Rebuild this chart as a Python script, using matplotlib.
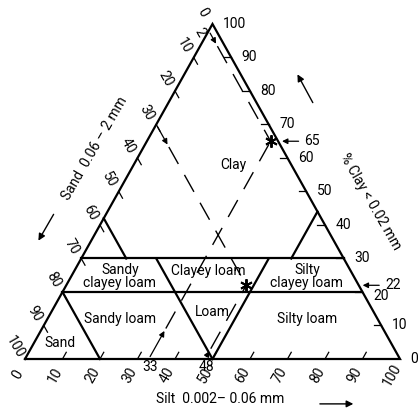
import numpy as np
import matplotlib
matplotlib.use('Agg')
import matplotlib.pyplot as plt

plt.rcParams['font.family'] = ['Roboto', 'DejaVu Sans']

# ternary points given as (silt %, clay %) -- sand is the rest
tick_vals = [0, 10, 20, 30, 40, 50, 60, 70, 80, 90, 100]

# class boundaries (silt, clay) -> (silt, clay)
bound_lines = [
    ((0, 30), (70, 30)),    # clay 30
    ((0, 20), (80, 20)),    # clay 20
    ((20, 0), (0, 20)),     # sand 80
    ((0, 42), (12, 30)),    # sand 58
    ((20, 30), (50, 0)),    # sand 50
    ((50, 0), (50, 30)),    # silt 50
    ((56, 30), (56, 44)),   # silt 56
]

class_names = ['Clay', 'Sandy\nclayey loam', 'Clayey loam', 'Silty\nclayey loam',
               'Sandy loam', 'Loam', 'Silty loam', 'Sand']
class_pos = [(55.5, 57.9), (25.3, 24.6), (48.8, 26.4), (75.2, 24.6),
             (25.3, 11.9), (50.1, 14.0), (75.2, 11.9), (9.3, 4.8)]

# two worked examples: (silt, clay, sand)
ex_silt = [33, 48]
ex_clay = [65, 22]
ex_sand = [2, 30]


def tern(silt, clay):
    return silt + clay / 2.0, clay


fig = plt.figure(figsize=(4.19, 4.13), dpi=100)
ax = fig.add_axes([0, 0, 1, 1])
ax.set_xlim(-6.667, 105.07)
ax.set_ylim(-16.12, 107.16)
ax.axis('off')

lw = 1.6
# outer triangle
tx = [0, 100, 50, 0]
ty = [0, 0, 100, 0]
ax.plot(tx, ty, color='black', lw=lw, solid_joinstyle='miter')

for (a, b) in bound_lines:
    x0, y0 = tern(*a)
    x1, y1 = tern(*b)
    ax.plot([x0, x1], [y0, y1], color='black', lw=lw)

# ticks
t = 2.0
for v in tick_vals[1:-1]:
    # bottom (silt)
    ax.plot([v, v + 0.5 * t], [0, t], color='black', lw=0.9)
    # right (clay)
    x, y = tern(100 - v, v)
    ax.plot([x, x - t], [y, y], color='black', lw=0.9)
    # left (sand)
    x, y = tern(0, 100 - v)
    ax.plot([x, x + 0.5 * t], [y, y - t], color='black', lw=0.9)

fs = 10
for v in tick_vals:
    ax.text(v - 2.0, -4.8, str(v), rotation=60, ha='center', va='center', fontsize=fs)
    x, y = tern(0, 100 - v)
    ax.text(x - 2.5, y + 3.6, str(v), rotation=-60, ha='center', va='center', fontsize=fs)
    x, y = tern(100 - v, v)
    yy = y - 1.2 if v == 20 else y
    ax.text(x + 2.8, yy, str(v), ha='left', va='center', fontsize=fs)

# class names
for name, (x, y) in zip(class_names, class_pos):
    ax.text(x, y, name, ha='center', va='center', fontsize=10, linespacing=0.85)

# axis titles and direction arrows
ax.text(18.7, 63.0, 'Sand  0.06 \u2013 2 mm', rotation=60, ha='center', va='center', fontsize=10)
ax.text(92.0, 46.9, '% Clay < 0.02 mm', rotation=-60, ha='center', va='center', fontsize=10)
ax.text(52.0, -11.8, 'Silt  0.002\u2013 0.06 mm', ha='center', va='center', fontsize=10)

arr = dict(arrowstyle='-|>', color='black', lw=1.0, mutation_scale=10)
ax.annotate('', xy=(3.2, 34.6), xytext=(8.0, 43.9), arrowprops=arr)
ax.annotate('', xy=(72.3, 85.7), xytext=(77.1, 75.8), arrowprops=arr)
ax.annotate('', xy=(88.3, -13.4), xytext=(77.9, -13.4), arrowprops=arr)

# worked examples
dash = dict(color='black', lw=1.0, dashes=(14, 9))
small = dict(arrowstyle='-|>', color='black', lw=0.9, mutation_scale=8)
for s, c, sa in zip(ex_silt, ex_clay, ex_sand):
    px, py = tern(s, c)
    # sand reading line from left edge
    lx, ly = tern(0, 100 - sa)
    f = 0.14
    mx, my = lx + f * (px - lx), ly + f * (py - ly)
    ax.annotate('', xy=(mx, my), xytext=(lx, ly), arrowprops=small)
    ax.plot([mx, px], [my, py], **dash)
    # silt reading line from bottom
    mx, my = s + f * (px - s), f * py
    ax.annotate('', xy=(mx, my), xytext=(s, 0), arrowprops=small)
    ax.plot([mx, px], [my, py], **dash)
    # clay arrow from the right
    rx, ry = tern(100 - c, c)
    ax.annotate('', xy=(rx + 0.3, c), xytext=(rx + 6.2, c), arrowprops=small)
    ax.text(rx + 7.0, c, str(c), ha='left', va='center', fontsize=fs)
    ax.text(s + 0.4, -2.3, str(s), ha='center', va='center', fontsize=fs)
    ax.plot(px, py, marker=(6, 2, 0), color='black', ms=9, mew=1.4)

ax.text(46.6, 97.6, str(ex_sand[0]), rotation=-60, ha='center', va='center', fontsize=fs)

fig.savefig('out.png', dpi=100)
